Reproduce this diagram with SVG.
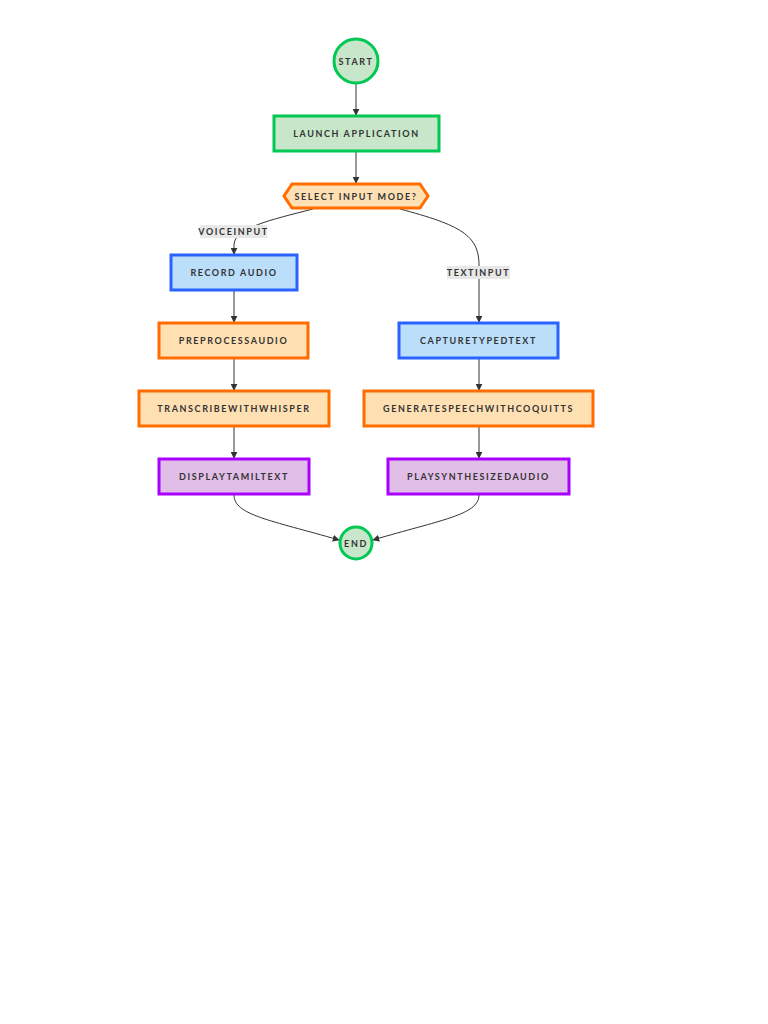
<svg xmlns="http://www.w3.org/2000/svg" width="768" height="1024" viewBox="0 0 768 1024">
<style>
text{font-family:Lato,"Liberation Sans",sans-serif;font-size:9px;font-weight:bold;fill:#333;letter-spacing:1.6px;text-anchor:middle;dominant-baseline:central}
.g{fill:#c8e6c9;stroke:#00c853;stroke-width:3}
.o{fill:#ffe0b2;stroke:#ff6d00;stroke-width:3}
.b{fill:#bbdefb;stroke:#2962ff;stroke-width:3}
.p{fill:#e1bee7;stroke:#aa00ff;stroke-width:3}
.e{fill:none;stroke:#333;stroke-width:1}
.lb{fill:#e8e8e8}
</style>
<defs><marker id="a" viewBox="0 0 10 10" refX="9" refY="5" markerWidth="7" markerHeight="7" orient="auto"><path d="M0,0L10,5L0,10z" fill="#333"/></marker></defs>
<rect width="768" height="1024" fill="#fff"/>
<g id="connectors">
<path class="e" d="M356,83V115" marker-end="url(#a)"/>
<path class="e" d="M356,152V183" marker-end="url(#a)"/>
<path class="e" d="M313,209C270,220 234,228 234,245V254" marker-end="url(#a)"/>
<path class="e" d="M400,209C460,225 479,235 479,265V322" marker-end="url(#a)"/>
<path class="e" d="M234,291V322" marker-end="url(#a)"/>
<path class="e" d="M234,359V390" marker-end="url(#a)"/>
<path class="e" d="M234,427V458" marker-end="url(#a)"/>
<path class="e" d="M479,359V390" marker-end="url(#a)"/>
<path class="e" d="M479,427V458" marker-end="url(#a)"/>
<path class="e" d="M234,495C234,515 270,520 339,540" marker-end="url(#a)"/>
<path class="e" d="M479,495C479,515 440,520 373,540" marker-end="url(#a)"/>
<rect class="lb" x="200" y="225" width="67" height="13"/><text x="233.5" y="231.5">VOICEINPUT</text>
<rect class="lb" x="447" y="266" width="63" height="13"/><text x="478.5" y="272.5">TEXTINPUT</text>
</g>
<g id="start"><circle class="g" cx="356" cy="61" r="22"/><text x="356" y="61">START</text></g>
<g id="launch"><rect class="g" x="274" y="116" width="165" height="35"/><text x="356.5" y="133.5">LAUNCH APPLICATION</text></g>
<g id="select"><polygon class="o" points="284,196 292,184 420,184 428,196 420,208 292,208"/><text x="356" y="196">SELECT INPUT MODE?</text></g>
<g id="record"><rect class="b" x="171" y="255" width="126" height="35"/><text x="234" y="272.5">RECORD AUDIO</text></g>
<g id="preprocess"><rect class="o" x="159" y="323" width="149" height="35"/><text x="233.5" y="340.5">PREPROCESSAUDIO</text></g>
<g id="transcribe"><rect class="o" x="139" y="391" width="190" height="35"/><text x="234" y="408.5">TRANSCRIBEWITHWHISPER</text></g>
<g id="display"><rect class="p" x="159" y="459" width="150" height="35"/><text x="234" y="476.5">DISPLAYTAMILTEXT</text></g>
<g id="capture"><rect class="b" x="399" y="323" width="159" height="35"/><text x="478.5" y="340.5">CAPTURETYPEDTEXT</text></g>
<g id="generate"><rect class="o" x="364" y="391" width="229" height="35"/><text x="478.5" y="408.5">GENERATESPEECHWITHCOQUITTS</text></g>
<g id="play"><rect class="p" x="388" y="459" width="181" height="35"/><text x="478.5" y="476.5">PLAYSYNTHESIZEDAUDIO</text></g>
<g id="end"><circle class="g" cx="356" cy="543" r="16"/><text x="356" y="543">END</text></g>
</svg>
